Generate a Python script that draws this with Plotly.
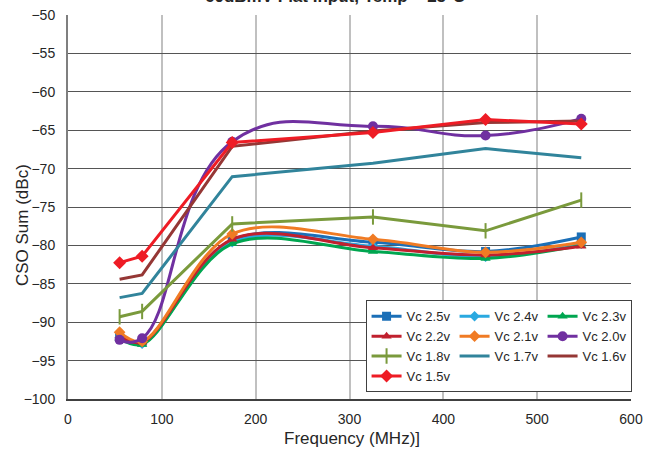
import plotly.graph_objects as go

freq = [55, 79, 175, 325, 445, 547]

series_names = ["Vc 2.5v", "Vc 2.4v", "Vc 2.3v", "Vc 2.2v", "Vc 2.1v",
                "Vc 2.0v", "Vc 1.8v", "Vc 1.7v", "Vc 1.6v", "Vc 1.5v"]

vc_25 = [-91.9, -92.6, -79.3, -79.6, -80.8, -78.9]
vc_24 = [-92.0, -92.8, -79.6, -80.1, -81.5, -79.8]
vc_23 = [-92.1, -92.9, -79.8, -80.8, -81.7, -80.0]
vc_22 = [-91.8, -92.6, -79.2, -80.3, -81.25, -80.1]
vc_21 = [-91.3, -92.5, -78.5, -79.2, -80.9, -79.6]
vc_20 = [-92.3, -92.1, -66.5, -64.5, -65.7, -63.5]
vc_18 = [-89.3, -88.6, -77.2, -76.3, -78.1, -74.1]
vc_17 = [-86.8, -86.25, -71.05, -69.3, -67.4, -68.6]
vc_16 = [-84.4, -83.85, -67.1, -65.1, -64.0, -63.8]
vc_15 = [-82.25, -81.4, -66.6, -65.3, -63.6, -64.2]

values = [vc_25, vc_24, vc_23, vc_22, vc_21, vc_20, vc_18, vc_17, vc_16, vc_15]

colors = ["#1b6fb7", "#2aa9e0", "#00a650", "#c0202e", "#f07b24",
          "#7030a0", "#7a9a3c", "#31849b", "#953735", "#ee1c25"]
symbols = ["square", "diamond", "triangle-up", "triangle-up", "diamond",
           "circle", "line-ns", None, None, "diamond"]
sizes = [9, 8, 9, 9, 9, 10, 11, 0, 0, 10]
shapes = ["spline", "spline", "spline", "spline", "spline",
          "spline", "linear", "linear", "linear", "linear"]
smooth = [1.0, 1.0, 1.0, 1.0, 1.0, 1.3, 0, 0, 0, 0]

fig = go.Figure()
for name, vals, col, sym, sz, shp, sm in zip(series_names, values, colors, symbols,
                                             sizes, shapes, smooth):
    if sym is None:
        mode = "lines"
        marker = dict()
    else:
        mode = "lines+markers"
        marker = dict(symbol=sym, size=sz, color=col,
                      line=dict(color=col, width=2 if sym == "line-ns" else 0))
    line = dict(color=col, width=3, shape=shp)
    if shp == "spline":
        line["smoothing"] = sm
    fig.add_trace(go.Scatter(x=freq, y=vals, name=name, mode=mode,
                             line=line, marker=marker))

fig.update_layout(
    width=656, height=451,
    margin=dict(l=68, r=25, t=15, b=52, autoexpand=False),
    paper_bgcolor="white", plot_bgcolor="white",
    font=dict(family="Liberation Sans, Arial, sans-serif", size=14, color="#262626"),
    showlegend=True,
    legend=dict(
        x=1.001, xanchor="right", y=0.257, yanchor="top",
        bgcolor="white", bordercolor="#404040", borderwidth=1,
        orientation="h", entrywidth=43, entrywidthmode="pixels",
        font=dict(size=13, color="#262626"),
        itemwidth=30,
    ),
    xaxis=dict(
        range=[0, 600], dtick=100, tick0=0,
        showgrid=True, gridcolor="#c0c0c0", gridwidth=1.5,
        showline=True, linecolor="#404040", linewidth=1.5,
        zeroline=False, ticks="", ticklabelstandoff=6,
        tickfont=dict(size=14),
    ),
    yaxis=dict(
        range=[-100, -50], dtick=5, tick0=-100,
        showgrid=True, gridcolor="#555555", gridwidth=1,
        showline=True, linecolor="#7f7f7f", linewidth=2,
        zeroline=False, ticks="", ticklabelstandoff=8,
        tickfont=dict(size=14),
    ),
    annotations=[
        dict(text="<b>60dBmV Flat Input, Temp = 25°C</b>", xref="paper", yref="paper",
             x=0.474, y=1, xanchor="center", yanchor="bottom", yshift=7,
             showarrow=False, font=dict(size=17, color="#262626")),
        dict(text="Frequency (MHz)]", xref="paper", yref="paper",
             x=0.5036, y=-0.1016, xanchor="center", yanchor="middle",
             showarrow=False, font=dict(size=17, color="#262626")),
        dict(text="CSO Sum (dBc)", xref="paper", yref="paper",
             x=-0.0817, y=0.453, xanchor="center", yanchor="middle", textangle=-90,
             showarrow=False, font=dict(size=17, color="#262626")),
    ],
)

fig.write_html("out.html",
               config={"displayModeBar": False},
               post_script="document.body.style.margin='0px';document.body.style.overflow='hidden';")
